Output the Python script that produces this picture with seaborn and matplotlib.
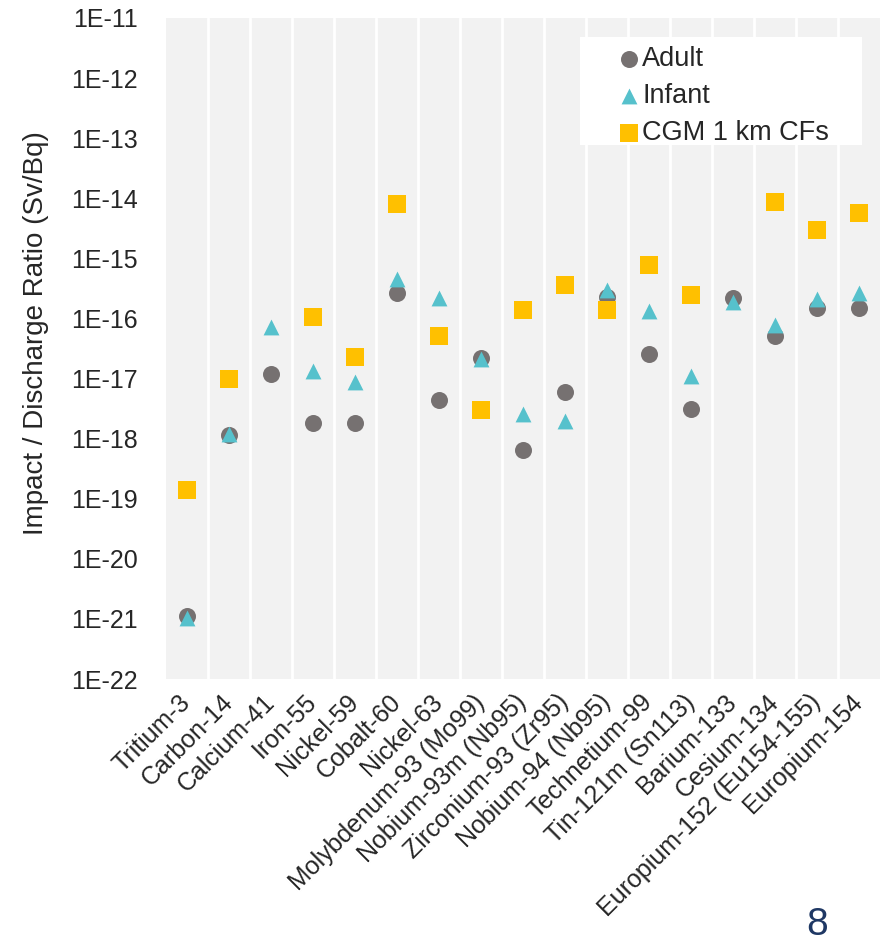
import numpy as np
import pandas as pd
import seaborn as sns
import matplotlib.pyplot as plt
from matplotlib.patches import Rectangle
from matplotlib.ticker import FixedLocator, FuncFormatter, NullLocator

nuclides = ["Tritium-3", "Carbon-14", "Calcium-41", "Iron-55", "Nickel-59",
            "Cobalt-60", "Nickel-63", "Molybdenum-93 (Mo99)", "Nobium-93m (Nb95)",
            "Zirconium-93 (Zr95)", "Nobium-94 (Nb95)", "Technetium-99",
            "Tin-121m (Sn113)", "Barium-133", "Cesium-134",
            "Europium-152 (Eu154-155)", "Europium-154"]

adult = [1.1e-21, 1.15e-18, 1.2e-17, 1.8e-18, 1.8e-18, 2.65e-16, 4.4e-18,
         2.2e-17, 6.5e-19, 6.0e-18, 2.3e-16, 2.6e-17, 3.1e-18, 2.2e-16,
         5.1e-17, 1.5e-16, 1.5e-16]
infant = [1.05e-21, 1.2e-18, 7.2e-17, 1.34e-17, 8.8e-18, 4.5e-16, 2.2e-16,
          2.1e-17, 2.6e-18, 2.0e-18, 3.0e-16, 1.33e-16, 1.1e-17, 1.9e-16,
          7.8e-17, 2.1e-16, 2.65e-16]
cgm = [1.4e-19, 1.0e-17, np.nan, 1.06e-16, 2.3e-17, 8.1e-15, 5.1e-17,
       3.0e-18, 1.4e-16, 3.6e-16, 1.4e-16, 7.8e-16, 2.45e-16, np.nan,
       8.7e-15, 3.0e-15, 5.7e-15]

series = ["Adult", "Infant", "CGM 1 km CFs"]

df = pd.DataFrame({"nuclide": nuclides * 3,
                   "pos": list(range(len(nuclides))) * 3,
                   "value": adult + infant + cgm,
                   "series": [s for s in series for _ in nuclides]}).dropna()

sns.set_style("white")
plt.rcParams["font.family"] = ["Liberation Sans", "DejaVu Sans"]

fig = plt.figure(figsize=(8.81, 9.44), dpi=100)
ax = fig.add_axes([0.1884, 0.2807, 0.8105, 0.7003])
ax.set_facecolor("#f2f2f2")

palette = {"Adult": "#767171", "Infant": "#56c1cc", "CGM 1 km CFs": "#ffc000"}
markers = {"Adult": "o", "Infant": "^", "CGM 1 km CFs": "s"}
sizes = {"Adult": 150, "Infant": 130, "CGM 1 km CFs": 165}

for s in series:
    sub = df[df["series"] == s]
    sns.scatterplot(data=sub, x="pos", y="value", color=palette[s], marker=markers[s],
                    s=sizes[s], linewidth=0, ax=ax, label=s, zorder=3)

ax.set_yscale("log")
ax.set_ylim(1e-22, 1e-11)
ax.yaxis.set_major_locator(FixedLocator([10.0 ** e for e in range(-22, -10)]))
ax.yaxis.set_minor_locator(NullLocator())
ax.yaxis.set_major_formatter(FuncFormatter(lambda v, p: "1E%d" % round(np.log10(v))))

ax.set_xlim(-0.5, len(nuclides) - 0.5)
ax.set_xticks(range(len(nuclides)))
ax.set_xticklabels(nuclides, rotation=45, ha="right", va="center",
                   rotation_mode="anchor", fontsize=18)
for b in np.arange(0.5, len(nuclides) - 0.5, 1):
    ax.axvline(b, color="white", lw=2, zorder=1)

ax.tick_params(axis="y", labelsize=18, length=0, pad=20)
ax.tick_params(axis="x", length=0, pad=14)
ax.set_xlabel("")
ax.set_ylabel("Impact / Discharge Ratio (Sv/Bq)", fontsize=20)
ax.yaxis.set_label_coords(-0.164, 0.524)
for sp in ax.spines.values():
    sp.set_visible(False)

# white legend box
ax.add_patch(Rectangle((0.58, 0.808), 0.395, 0.163, transform=ax.transAxes,
                       facecolor="white", edgecolor="none", zorder=4))
leg = ax.legend(loc="upper left", bbox_to_anchor=(0.633, 0.958), fontsize=19.5,
                frameon=False, handletextpad=0.1, labelspacing=0.42,
                borderpad=0, borderaxespad=0, handlelength=0.8)
leg.set_zorder(5)

fig.text(0.927, 0.001, "8", fontsize=28, color="#1f3864", ha="center", va="bottom")

fig.savefig("out.png", dpi=100)
